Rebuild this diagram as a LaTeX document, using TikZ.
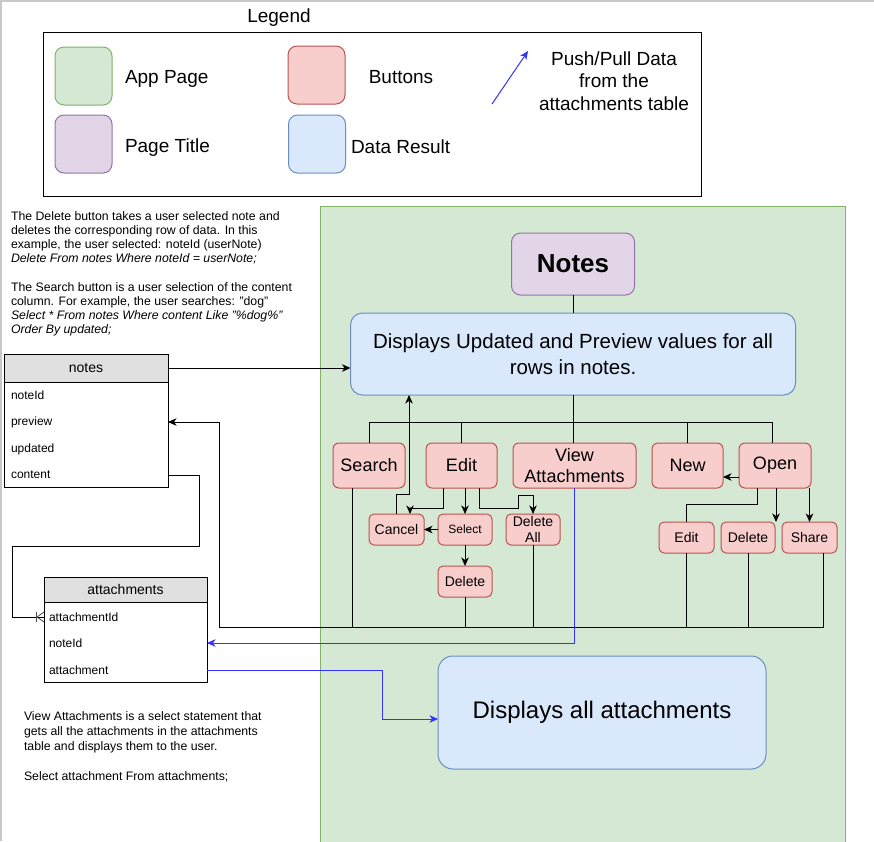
\documentclass[tikz,border=0pt]{standalone}
\usepackage{fontspec}
\setmainfont{Liberation Sans}
\usetikzlibrary{arrows.meta}
\definecolor{pgF}{HTML}{D5E8D4}\definecolor{pgD}{HTML}{82B366}
\definecolor{ttlF}{HTML}{E1D5E7}\definecolor{ttlD}{HTML}{9673A6}
\definecolor{btnF}{HTML}{F8CECC}\definecolor{btnD}{HTML}{B85450}
\definecolor{resF}{HTML}{DAE8FC}\definecolor{resD}{HTML}{6C8EBF}
\definecolor{hdrF}{HTML}{E0E0E0}
\definecolor{bluelink}{HTML}{3333FF}
\definecolor{framegray}{HTML}{C8C8C8}
\begin{document}
\begin{tikzpicture}[x=1pt,y=-1pt,
  every node/.style={inner sep=0pt, outer sep=0pt},
  ln/.style={line width=1pt},
  arr/.style={ln, -{Stealth[length=8.5pt,width=7.5pt,inset=2.5pt]}},
  barr/.style={arr, draw=bluelink},
  btn/.style={draw=btnD, fill=btnF, line width=1pt, rounded corners=6pt, align=center},
  bigbtn/.style={btn, minimum height=45pt, font=\fontsize{18}{21}\selectfont},
  smallbtn/.style={btn, rounded corners=5pt, minimum height=31pt, font=\fontsize{14}{16}\selectfont},
  swatch/.style={line width=1pt, rounded corners=9pt, minimum width=57pt, minimum height=58pt},
  lgtext/.style={font=\fontsize{19}{22.5}\selectfont},
  hdr/.style={draw, line width=1pt, fill=hdrF, font=\fontsize{14}{16}\selectfont},
  tblrow/.style={align=left, font=\fontsize{12}{14}\selectfont},
  notetext/.style={align=left, font=\fontsize{12.3}{14}\selectfont},
]
\useasboundingbox (0,0) rectangle (874,841);
\fill[white] (0,0) rectangle (874,841);
\draw[framegray, line width=2pt] (0,1) -- (874,1);
\draw[framegray, line width=2pt] (1,0) -- (1,841);

% app page
\node[draw=pgD, fill=pgF, line width=1pt, anchor=north west, minimum width=525pt, minimum height=650pt] (page) at (320,206) {};

% legend
\node[font=\fontsize{19}{22}\selectfont] (legendTitle) at (279,18) {Legend};
\node[draw, line width=1pt, minimum width=658pt, minimum height=164pt] (legendBox) at (372,114) {};
\node[swatch, draw=pgD, fill=pgF] (swApp) at (83.5,76) {};
\node[swatch, draw=ttlD, fill=ttlF] (swTitle) at (83.5,144) {};
\node[swatch, draw=btnD, fill=btnF] (swBtn) at (316.5,75) {};
\node[swatch, draw=resD, fill=resF] (swRes) at (317,144) {};
\node[lgtext, anchor=west] (lbApp) at (125,79) {App Page};
\node[lgtext, anchor=west] (lbTitle) at (125,147.5) {Page Title};
\node[lgtext] (lbBtn) at (401,77) {Buttons};
\node[lgtext, anchor=west] (lbData) at (351,146.5) {Data Result};
\coordinate (lgA) at (492,104);
\coordinate (lgB) at (528,51);
\draw[barr] (lgA) -- (lgB);
\node[lgtext, align=center] (lbPush) at (614,81) {Push/Pull Data\\from the\\attachments table};

% explanatory texts
\node[notetext, anchor=north west] (txtDelete) at (11,212) {The Delete button takes a user selected note and\\
deletes the corresponding row of data. In this\\
example, the user selected: noteId (userNote)\\
\textit{Delete From notes Where noteId = userNote;}\\[15pt]
The Search button is a user selection of the content\\
column. For example, the user searches: "dog"\\
\textit{Select * From notes Where content Like "\%dog\%"}\\
\textit{Order By updated;}};
\node[notetext, font=\fontsize{12.3}{14.6}\selectfont, anchor=north west] (txtView) at (24,712) {View Attachments is a select statement that\\
gets all the attachments in the attachments\\
table and displays them to the user.\\[16pt]
Select attachment From attachments;};

% notes table
\node[hdr, minimum width=164pt, minimum height=28pt] (notesH) at (86,368) {\raisebox{-1.5pt}{notes}};
\node[draw, line width=1pt, fill=white, minimum width=164pt, minimum height=105pt, anchor=north] (notesB) at (86,382) {};
\node[tblrow, inner xsep=7pt, text width=150pt] (nNoteId) at (86,395) {noteId};
\node[tblrow, inner xsep=7pt, text width=150pt] (nPreview) at (86,422) {preview};
\node[tblrow, inner xsep=7pt, text width=150pt] (nUpdated) at (86,449) {updated};
\node[tblrow, inner xsep=7pt, text width=150pt] (nContent) at (86,475) {content};

% attachments table
\node[hdr, minimum width=163pt, minimum height=25pt] (attH) at (125.5,589.5) {attachments};
\node[draw, line width=1pt, fill=white, minimum width=163pt, minimum height=80pt, anchor=north] (attB) at (125.5,602) {};
\node[tblrow, inner xsep=5pt, text width=153pt] (aAttId) at (125.5,617) {attachmentId};
\node[tblrow, inner xsep=5pt, text width=153pt] (aNoteId) at (125.5,643) {noteId};
\node[tblrow, inner xsep=5pt, text width=153pt] (aAttach) at (125.5,670) {attachment};

% page contents
\node[draw=ttlD, fill=ttlF, line width=1pt, rounded corners=9pt, minimum width=123pt, minimum height=62pt, font=\fontsize{26}{30}\selectfont\bfseries] (title) at (573,264) {Notes};
\node[draw=resD, fill=resF, line width=1pt, rounded corners=12pt, minimum width=445pt, minimum height=82pt, align=center, font=\fontsize{20.5}{26}\selectfont] (display) at (573,354) {Displays Updated and Preview values for all\\rows in notes.};

\node[bigbtn, minimum width=72pt] (search) at (369,465.5) {Search};
\node[bigbtn, minimum width=71pt] (edit) at (461.5,465.5) {Edit};
\node[bigbtn, minimum width=123pt] (view) at (574.5,465.5) {View\\Attachments};
\node[bigbtn, minimum width=71pt] (new) at (687.5,465.5) {New};
\node[bigbtn, minimum width=72pt] (open) at (775,465.5) {Open};

\node[smallbtn, minimum width=55pt] (cancel) at (396.5,529.5) {Cancel};
\node[smallbtn, minimum width=54pt, font=\fontsize{12}{14}\selectfont] (select) at (465,529.5) {Select};
\node[smallbtn, minimum width=54pt] (delall) at (533,529.5) {Delete\\All};
\node[smallbtn, minimum width=54pt] (delete) at (465,581.5) {Delete};
\node[smallbtn, minimum width=55pt] (edit2) at (686.5,537.5) {Edit};
\node[smallbtn, minimum width=54pt] (delete2) at (748,537.5) {Delete};
\node[smallbtn, minimum width=55pt] (share) at (809.5,537.5) {Share};

\node[draw=resD, fill=resF, line width=1pt, rounded corners=15pt, minimum width=328pt, minimum height=113pt, font=\fontsize{24}{28}\selectfont] (dispAtt) at (602,712.5) {Displays all attachments};

% connectors
\draw[ln] (title.south) -- (display.north);
\draw[arr] (notesH.east) -- (display.west |- notesH.east);
\coordinate (busTop) at (0,422);
\coordinate (busR) at (772,422);
\draw[ln] (display.south) -- (display.south |- view.north);
\draw[ln] (search.north) |- (busR) -- (busR |- open.north);
\draw[ln] (edit.north) -- (edit.north |- busTop);
\draw[ln] (new.north) -- (new.north |- busTop);

\draw[arr] ([xshift=-18.5pt]edit.south) -- ++(0,20) -| ([xshift=13.5pt]cancel.north);
\draw[arr] (edit.south -| select.north) -- (select.north);
\draw[arr] ([xshift=17.5pt]edit.south) -- ++(0,20) -- ++(39,0) -- ++(0,-13) -| (delall.north);
\draw[arr] (select.west) -- (cancel.east);
\draw[arr] (select.south) -- (delete.north);
\draw[arr] (cancel.north) -- ++(0,-20) -| ([xshift=-164pt]display.south);

\draw[arr] ([yshift=-11.5pt]open.west) -- ([yshift=-11.5pt]new.east);
\draw[ln] ([xshift=-18pt]open.south) -- ++(0,16) -| (edit2.north);
\draw[arr] ([xshift=1pt]open.south) -- ([xshift=28pt]delete2.north);
\draw[arr] (open.south -| share.north) -- (share.north);

\coordinate (busBL) at (219,627);
\draw[arr] ([xshift=13.5pt]share.south) |- (busBL) |- (nPreview.east);
\draw[ln] ([xshift=-17pt]search.south) -- ++(0,139);
\draw[ln] (delete.south) -- (delete.south |- busBL);
\draw[ln] (delall.south) -- (delall.south |- busBL);
\draw[ln] (edit2.south) -- (edit2.south |- busBL);
\draw[ln] (delete2.south) -- (delete2.south |- busBL);

\draw[barr] (view.south) |- (aNoteId.east);
\draw[barr] (aAttach.east) -- ++(175,0) |- ([yshift=-6.5pt]dispAtt.west);

\draw[ln] (nContent.east) -- ++(31,0) -- ++(0,71) -- ++(-187,0) |- (aAttId.west);
\draw[line width=0.8pt, black!70] ([xshift=-8pt,yshift=5pt]aAttId.west) -- ([xshift=-8pt,yshift=-5pt]aAttId.west);
\draw[line width=0.8pt, black!70] ([yshift=5pt]aAttId.west) -- ([xshift=-7pt]aAttId.west) -- ([yshift=-5pt]aAttId.west);
\end{tikzpicture}
\end{document}
